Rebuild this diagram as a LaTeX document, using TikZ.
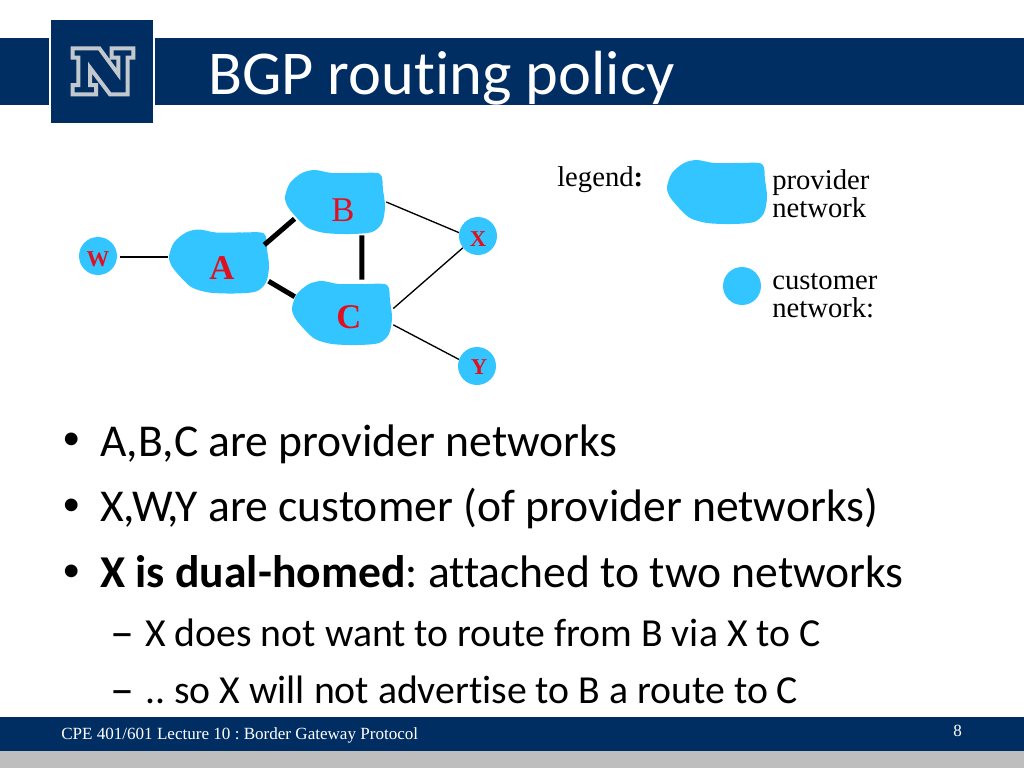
\documentclass[tikz,border=0pt]{standalone}
\usepackage{fontspec}
\setmainfont{Liberation Serif}
\newfontfamily\slidefont[Ligatures=NoCommon]{Carlito}
\usetikzlibrary{positioning}
\definecolor{navy}{HTML}{002E62}
\definecolor{netblue}{HTML}{33C5FF}
\definecolor{netred}{HTML}{E01020}
\definecolor{logogray}{HTML}{C3C8CF}
\definecolor{footgray}{HTML}{BEBEBE}
\frenchspacing

\begin{document}
\begin{tikzpicture}[
    x=0.75pt,y=-0.75pt,
    provider/.style={%
      rectangle,
      inner sep=0pt,
      minimum width=76.5pt,
      minimum height=49.5pt,
      path picture={
        \fill [netblue] plot [smooth cycle] coordinates {(-50,-5) (-45,-19) (-33,-29) (-20,-32) (-3,-29) (23,-29) (45,-28) (48,-12) (50,5) (47,21) (37,30) (15,32) (-10,31) (-27,26) (-38,16) (-47,5)};
      },
    },
    customer/.style={%
      circle,
      fill=netblue,
      inner sep=0pt,
      minimum size=28.5pt,
    },
    netname/.style={%
      text=netred,
      inner sep=0pt,
      font=\fontsize{26}{26}\selectfont,
    },
    custname/.style={%
      text=netred,
      inner sep=0pt,
      font=\fontsize{17}{17}\selectfont\bfseries,
    },
    legendtext/.style={%
      align=left,
      inner sep=0pt,
      font=\fontsize{21.5}{21}\selectfont,
    },
    bulletline/.style={%
      anchor=base west,
      inner sep=0pt,
      font=\slidefont\fontsize{34.2}{34}\selectfont,
    },
    bulletmark/.style={%
      anchor=base west,
      inner sep=0pt,
      font=\slidefont\fontsize{27}{27}\selectfont,
    },
    subline/.style={%
      anchor=base west,
      inner sep=0pt,
      font=\slidefont\fontsize{29.8}{30}\selectfont,
    },
    dashmark/.style={%
      anchor=base west,
      inner sep=0pt,
      font=\slidefont\fontsize{36}{36}\selectfont,
    },
    footline/.style={%
      anchor=base west,
      inner sep=0pt,
      text=white,
      font=\fontsize{12.8}{13}\selectfont,
    },
    thicklink/.style={%
      line width=3.75pt,
    },
    thinlink/.style={%
      line width=1pt,
    },
  ]

    \useasboundingbox (0,0) rectangle (1024,768);

    % header
    \fill [navy] (0,38) rectangle (49,105);
    \fill [navy] (155,38) rectangle (1024,105);
    \fill [navy] (51,20) rectangle (153,123);
    \draw [logogray,line width=3pt] (72.7,48.3) -- (99.3,48.3) -- (118.3,74.3) -- (118.3,57.7) -- (111.7,57.7) -- (111.7,48.3) -- (133.3,48.3) -- (133.3,57.7) -- (127.7,57.7) -- (127.7,94.3) -- (110,94.3) -- (90,67.7) -- (90,85) -- (96,85) -- (96,94.3) -- (72.7,94.3) -- (72.7,85) -- (78.3,85) -- (78.3,57.7) -- (72.7,57.7) -- cycle;
    \node [anchor=base west,inner sep=0pt,text=white,font=\slidefont\fontsize{46.8}{47}\selectfont] (title) at (208,94) {BGP routing policy};

    % networks
    \node [provider] (A) at (219,261.5) {};
    \node [provider] (B) at (335,202) {};
    \node [provider] (C) at (342,313) {};
    \node [netname,font=\fontsize{26}{26}\selectfont\bfseries] (Aname) at (222,268) {A};
    \node [netname] (Bname) at (343,210) {B};
    \node [netname,font=\fontsize{26}{26}\selectfont\bfseries] (Cname) at (349,317) {C};
    \node [customer] (W) at (98,256) {};
    \node [customer] (X) at (478,236) {};
    \node [customer] (Y) at (477,366) {};
    \node [custname] (Wname) at (98,259) {W};
    \node [custname] (Xname) at (478,239) {X};
    \node [custname] (Yname) at (479,367) {Y};

    \draw [thicklink,shorten <=-5.9pt,shorten >=-10.7pt] (A.23) -- (B.207);
    \draw [thicklink,shorten <=-1.5pt,shorten >=-3.5pt] (A.-22) -- (C.160);
    \draw [thicklink] (B.-51) -- (C.59);
    \draw [thinlink,shorten <=2pt] (W.-3) -- (W.-3 -| A.west);
    \draw [thinlink] (B.east) -- (X.170);
    \draw [thinlink] (C.5) -- (X.218);
    \draw [thinlink] (C.-13) -- (Y.160);

    % legend
    \node [anchor=base west,inner sep=0pt,font=\fontsize{21.5}{21}\selectfont] (legend) at (557,186) {legend\textbf{:}};
    \node [provider] (legendProvider) at (717,192) {};
    \node [customer] (legendCustomer) at (742,286) {};
    \node [legendtext,anchor=west] (providerText) at (772,194) {provider\\network};
    \node [legendtext,anchor=west] (customerText) at (772,296) {customer\\network:};

    % text
    \node [bulletmark] (b1) at (62,449) {•};
    \node [bulletline] (t1) at (100,456) {A,B,C are provider networks};
    \node [bulletmark] (b2) at (62,515) {•};
    \node [bulletline] (t2) at (100,521) {X,W,Y are customer (of provider networks)};
    \node [bulletmark] (b3) at (62,581) {•};
    \node [bulletline] (t3) at (100,587) {\textbf{X is dual-homed}: attached to two networks};
    \node [dashmark] (d1) at (110,648) {–};
    \node [subline] (s1) at (145,646) {X does not want to route from B via X to C};
    \node [dashmark] (d2) at (110,705) {–};
    \node [subline] (s2) at (145,703) {.. so X will not advertise to B a route to C};

    % footer
    \fill [navy] (0,717) rectangle (1024,751);
    \fill [footgray] (0,751) rectangle (1024,768);
    \node [footline] (foot) at (61,739) {CPE 401/601 Lecture 10 : Border Gateway Protocol};
    \node [footline] (page) at (953,736) {8};
\end{tikzpicture}
\end{document}
